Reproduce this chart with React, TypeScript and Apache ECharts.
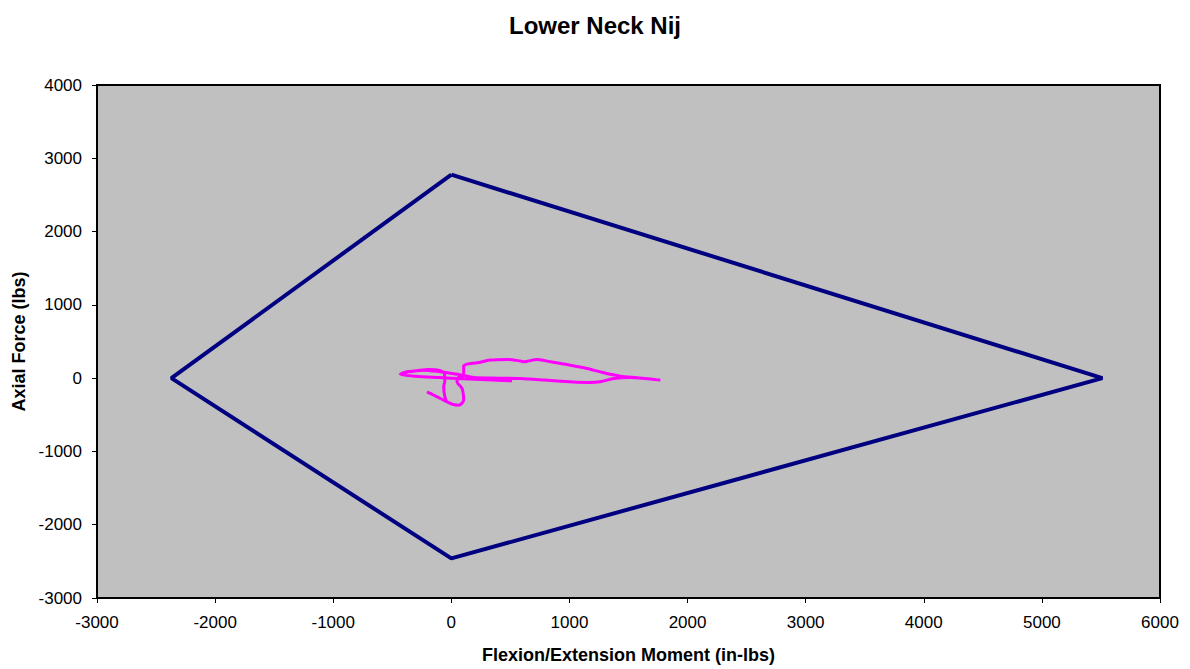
import React, { useEffect, useRef } from "react";
import * as echarts from "echarts";

const xTicks = { min: -3000, max: 6000, interval: 1000 };
const yTicks = { min: -3000, max: 4000, interval: 1000 };

// Nij critical boundary (moment, force)
const boundaryX = [0, 5512, 0, -2370, 0];
const boundaryY = [2776, 0, -2460, 0, 2776];

// Lower neck trace (moment in-lbs, force lbs)
const traceX = [
  514, 300, 100, -100, -300, -432, -400, -361, -280, -192, -108, -60, -55, -65, -55, -37, 62, 104, 91, 48, 60, 104,
  104, 133, 217, 330, 471, 584, 612, 725, 838, 1008, 1149, 1290, 1431, 1572, 1770,
  1516, 1375, 1262, 1149, 866, 584, 400, 189, 91, 6, -93, -234, -375, -432,
  null, -206, -120, -37,
];
const traceY = [
  -37, -22, -8, 8, 25, 52, 70, 86, 105, 118, 109, 70, -40, -119, -250, -323, -369, -300, -141, -50, 10, 41,
  164, 191, 209, 246, 255, 235, 223, 255, 223, 177, 132, 73, 27, 5, -27,
  10, -5, -50, -59, -36, -5, 0, 9, 41, 64, 86, 109, 86, 55,
  null, -187, -255, -323,
];

export default function App() {
  const ref = useRef<HTMLDivElement>(null);
  useEffect(() => {
    const chart = echarts.init(ref.current!, null, { renderer: "svg" });
    const font = "'Liberation Sans', Arial, sans-serif";
    chart.setOption({
      animation: false,
      title: {
        text: "Lower Neck Nij",
        left: "center",
        top: 8,
        textStyle: { fontFamily: font, fontSize: 24, fontWeight: "bold", color: "#000" },
      },
      grid: {
        left: 97,
        right: 30,
        top: 85,
        bottom: 71,
        show: true,
        backgroundColor: "#C0C0C0",
        borderColor: "#000",
        borderWidth: 2,
      },
      xAxis: {
        type: "value",
        min: xTicks.min,
        max: xTicks.max,
        interval: xTicks.interval,
        name: "Flexion/Extension Moment (in-lbs)",
        nameLocation: "middle",
        nameGap: 48,
        nameTextStyle: { fontFamily: font, fontSize: 18, fontWeight: "bold", color: "#000" },
        axisLine: { show: true, onZero: false, lineStyle: { color: "#000", width: 1 } },
        axisTick: { show: true, length: 5, lineStyle: { color: "#000" } },
        axisLabel: { fontFamily: font, fontSize: 17, color: "#000", margin: 16, formatter: (v: number) => String(v) },
        splitLine: { show: false },
      },
      yAxis: {
        type: "value",
        min: yTicks.min,
        max: yTicks.max,
        interval: yTicks.interval,
        name: "Axial Force (lbs)",
        nameLocation: "middle",
        nameGap: 68,
        nameTextStyle: { fontFamily: font, fontSize: 18, fontWeight: "bold", color: "#000" },
        axisLine: { show: true, onZero: false, lineStyle: { color: "#000", width: 1 } },
        axisTick: { show: true, length: 5, lineStyle: { color: "#000" } },
        axisLabel: { fontFamily: font, fontSize: 17, color: "#000", margin: 15, formatter: (v: number) => String(v) },
        splitLine: { show: false },
      },
      series: [
        {
          type: "line",
          data: boundaryX.map((x, i) => [x, boundaryY[i]]),
          showSymbol: false,
          lineStyle: { color: "#000080", width: 4 },
          itemStyle: { color: "#000080" },
        },
        {
          type: "line",
          data: traceX.map((x, i) => (x === null ? [null, null] : [x, traceY[i]])),
          showSymbol: false,
          connectNulls: false,
          smooth: 0.3,
          lineStyle: { color: "#FF00FF", width: 3 },
          itemStyle: { color: "#FF00FF" },
        },
      ],
    });
    return () => chart.dispose();
  }, []);
  return (
    <div
      ref={ref}
      style={{ position: "fixed", left: 0, top: 0, width: 1190, height: 669, background: "#fff" }}
    />
  );
}
